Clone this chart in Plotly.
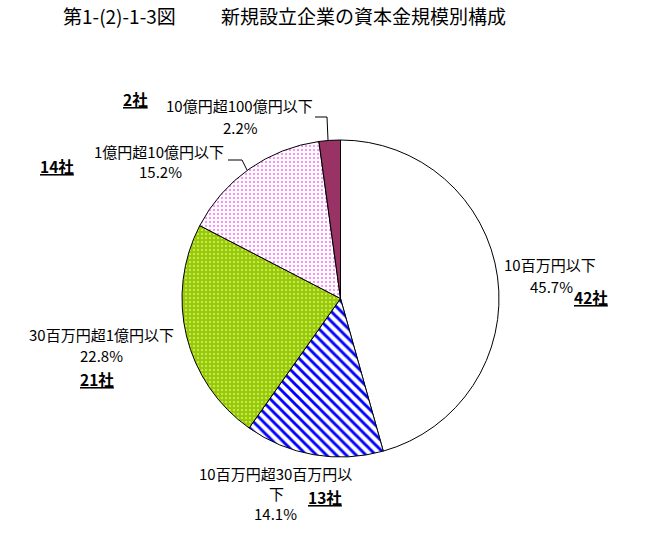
import plotly.graph_objects as go

# ---- data ----
categories = ["10百万円以下", "10百万円超30百万円以下", "30百万円超1億円以下",
              "1億円超10億円以下", "10億円超100億円以下"]
companies = [42, 13, 21, 14, 2]
title_left = "第1-(2)-1-3図"
title_main = "新規設立企業の資本金規模別構成"

W, H = 647, 535
total = sum(companies)
pcts = [v / total * 100 for v in companies]

# ---- styles ----
bg_colors = ["#FFFFFF", "#FFFFFF", "#99CC00", "#FFFFFF", "#993366"]
fg_colors = ["#FFFFFF", "#0000FF", "#FFFFFF", "#FF00FF", "#993366"]
shapes_p = ["", "\\", ".", ".", ""]
sizes_p = [6, 7, 4, 4, 6]
solid_p = [0.3, 0.42, 0.13, 0.13, 0.3]

cx, cy, r = 340.5, 298.5, 158.5
dom_x = [(cx - r) / W, (cx + r) / W]
dom_y = [1 - (cy + r) / H, 1 - (cy - r) / H]

fig = go.Figure(go.Pie(
    labels=categories, values=companies, sort=False, direction="clockwise",
    rotation=0, textinfo="none", hoverinfo="label+percent",
    domain=dict(x=dom_x, y=dom_y),
    marker=dict(colors=bg_colors, line=dict(color="#000000", width=1),
                pattern=dict(shape=shapes_p, fgcolor=fg_colors, bgcolor=bg_colors,
                             size=sizes_p, solidity=solid_p, fillmode="replace",
                             fgopacity=1)),
    showlegend=False,
))

FONT = "Noto Sans CJK JP"

def px(x):
    return x / W

def py(y):
    return 1 - y / H

anns = []

def add(text, x, y, size=15, xanchor="center"):
    anns.append(dict(text=text, x=px(x), y=py(y), xref="paper", yref="paper",
                     xanchor=xanchor, yanchor="middle", showarrow=False,
                     font=dict(family=FONT, size=size, color="#000000")))

add(title_left, 61, 15, size=19, xanchor="left")
add(title_main, 219, 15, size=19, xanchor="left")

label_disp = ["10百万円以下", "10百万円超30百万円以", "30百万円超1億円以下",
              "1億円超10億円以下", "10億円超100億円以下"]
name_pos = [(550, 265), (275, 473), (102, 334), (159, 151), (239, 106)]
pct_pos = [(551, 286), (275, 513), (102, 355), (160, 171), (240, 128)]
cnt_pos = [(591, 297), (325, 497), (97, 379), (57, 166), (135, 99)]

for i in range(len(categories)):
    add(label_disp[i], *name_pos[i])
    add(f"{pcts[i]:.1f}%", *pct_pos[i])
    add(f"<u><b>{companies[i]}社</b></u>", *cnt_pos[i], size=15.5)
add("下", 276, 493)

def line_path(pts):
    d = "M " + " L ".join(f"{px(x)},{py(y)}" for x, y in pts)
    return dict(type="path", path=d, xref="paper", yref="paper",
                line=dict(color="#000000", width=1))

shapes = [
    line_path([(315, 117), (327, 117), (328, 140)]),
    line_path([(228, 160), (242, 160), (247, 170)]),
]

fig.update_layout(width=W, height=H, margin=dict(l=0, r=0, t=0, b=0),
                  paper_bgcolor="#FFFFFF", plot_bgcolor="#FFFFFF",
                  annotations=anns, shapes=shapes)

fig.write_html("out.html", config={"displayModeBar": False},
               post_script=["document.body.style.margin='0';"])
